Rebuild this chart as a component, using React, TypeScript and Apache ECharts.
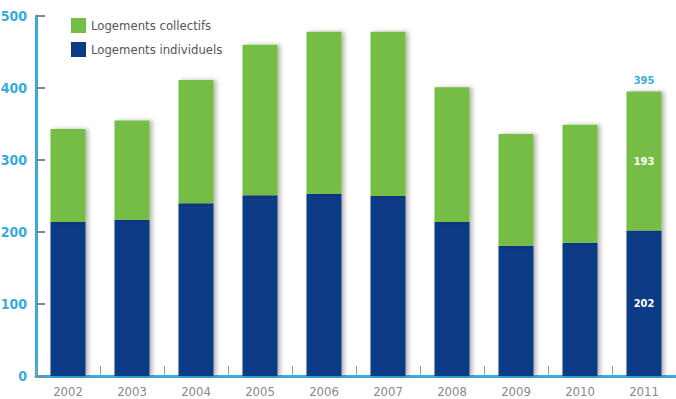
import React, { useEffect, useRef } from "react";
import * as echarts from "echarts";

const years = ["2002", "2003", "2004", "2005", "2006", "2007", "2008", "2009", "2010", "2011"];
const individuels = [214, 217, 240, 251, 253, 250, 214, 181, 185, 202];
const collectifs = [129, 138, 171, 209, 225, 228, 187, 155, 164, 193];
const yTicks = [0, 100, 200, 300, 400, 500];
const labelledIndex = 9;

const FONT = "'Liberation Sans Narrow', 'DejaVu Sans Condensed', 'Roboto', sans-serif";
const BLUE = "#0a3b86";
const GREEN = "#75bd45";
const LIGHT = "#3aa9e0";

export default function App() {
  const ref = useRef<HTMLDivElement>(null);
  useEffect(() => {
    if (!ref.current) return;
    const chart = echarts.init(ref.current, undefined, { renderer: "svg" });
    const shadow = { shadowColor: "rgba(0,0,0,0.28)", shadowBlur: 4, shadowOffsetX: 3, shadowOffsetY: 0 };
    chart.setOption({
      animation: false,
      textStyle: { fontFamily: FONT },
      grid: { left: 36, width: 640, top: 16, bottom: 23, outerBoundsMode: "none", containLabel: false },
      legend: {
        data: ["Logements collectifs", "Logements individuels"],
        orient: "vertical",
        left: 66,
        top: 13,
        itemWidth: 15,
        itemHeight: 15,
        itemGap: 9,
        icon: "rect",
        textStyle: { fontFamily: FONT, fontSize: 13, color: "#555" },
      },
      xAxis: {
        type: "category",
        data: years,
        axisLine: { lineStyle: { color: LIGHT, width: 3 } },
        axisTick: { show: true, inside: true, length: 10, lineStyle: { color: "#999", width: 1 } },
        axisLabel: { color: "#8a8a8a", fontSize: 13, margin: 9, fontFamily: FONT },
      },
      yAxis: {
        type: "value",
        min: yTicks[0],
        max: yTicks[yTicks.length - 1],
        interval: 100,
        splitLine: { show: false },
        axisLine: { show: true, lineStyle: { color: LIGHT, width: 3 } },
        axisTick: { show: true, inside: true, length: 9, lineStyle: { color: "#888", width: 2 } },
        axisLabel: { color: LIGHT, fontSize: 14, margin: 9, fontFamily: FONT, fontWeight: "bold" },
      },
      series: [
        {
          name: "Logements individuels",
          type: "bar",
          stack: "t",
          barWidth: 35,
          itemStyle: { color: BLUE, ...shadow },
          data: individuels.map((v, i) =>
            i === labelledIndex
              ? { value: v, label: { show: true, position: "inside", color: "#fff", fontWeight: "bold", fontSize: 11, fontFamily: FONT } }
              : v
          ),
        },
        {
          name: "Logements collectifs",
          type: "bar",
          stack: "t",
          barWidth: 35,
          itemStyle: { color: GREEN, ...shadow },
          data: collectifs.map((v, i) =>
            i === labelledIndex
              ? { value: v, label: { show: true, position: "inside", color: "#fff", fontWeight: "bold", fontSize: 11, fontFamily: FONT } }
              : v
          ),
        },
        {
          name: "total",
          type: "bar",
          stack: "t",
          barWidth: 35,
          itemStyle: { color: "transparent" },
          data: years.map((_, i) =>
            i === labelledIndex
              ? {
                  value: 0,
                  label: {
                    show: true,
                    position: "top",
                    distance: 6,
                    formatter: String(individuels[i] + collectifs[i]),
                    color: LIGHT,
                    fontWeight: "bold",
                    fontSize: 11,
                    fontFamily: FONT,
                  },
                }
              : 0
          ),
        },
      ],
    });
    return () => chart.dispose();
  }, []);
  return <div ref={ref} style={{ width: 676, height: 399, position: "absolute", left: 0, top: 0 }} />;
}
